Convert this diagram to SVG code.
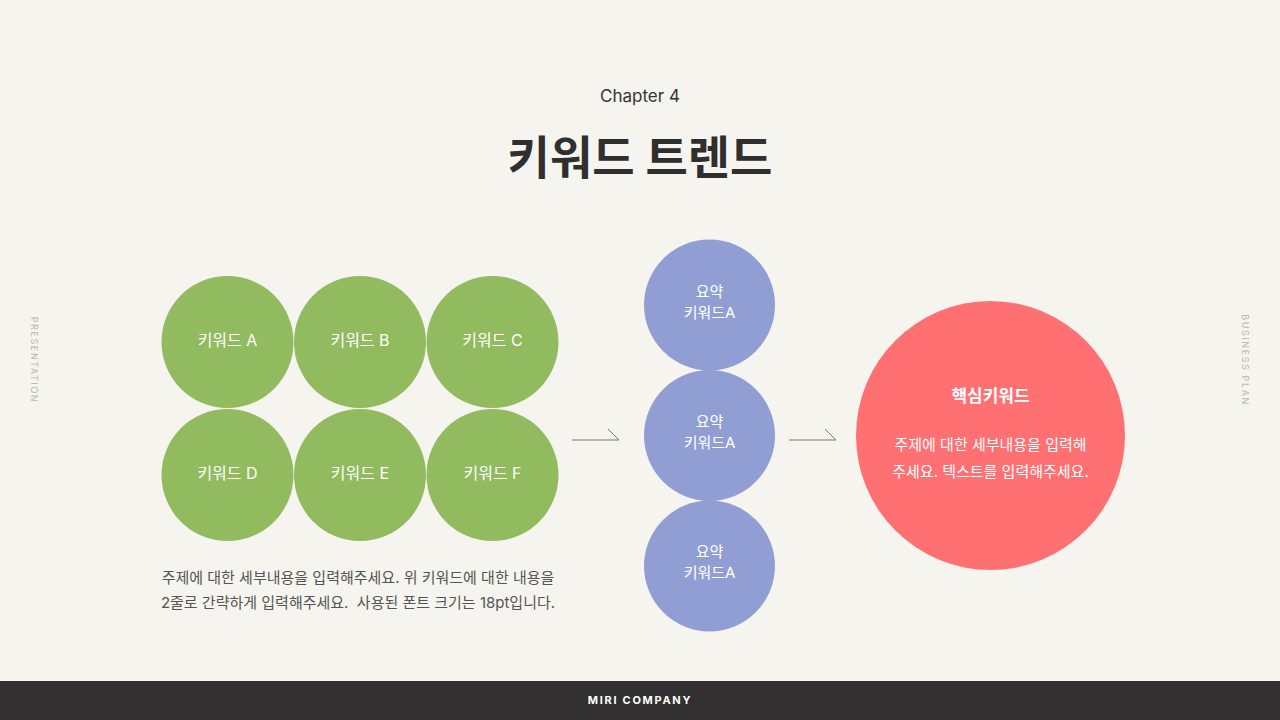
<svg xmlns="http://www.w3.org/2000/svg" width="1280" height="720" viewBox="0 0 1280 720">
<style>
.f{font-family:Inter,"Noto Sans CJK KR","Noto Sans",sans-serif}
.side{font-size:9px;fill:#b8b8b4;letter-spacing:1.6px}
.g{fill:#92BA5E}
.b{fill:#919ED3}
.lbl{font-size:16px;fill:#ffffff;text-anchor:middle}
.body{font-size:15px;fill:#555452;text-anchor:middle}
.wtxt{font-size:15px;fill:#ffffff;text-anchor:middle}
.conn{stroke:#777;stroke-width:1;fill:none}
</style>
<rect width="1280" height="720" fill="#F5F4EF"/>
<text class="f side" transform="translate(31,360) rotate(90)" text-anchor="middle">PRESENTATION</text>
<text class="f side" transform="translate(1242,360) rotate(90)" text-anchor="middle">BUSINESS PLAN</text>
<text class="f" x="640" y="102" font-size="17" fill="#333" text-anchor="middle">Chapter 4</text>
<text class="f" x="640" y="174" font-size="46" font-weight="700" fill="#2f2f2f" text-anchor="middle">키워드 트렌드</text>
<g id="kwA"><circle class="g" cx="227.5" cy="342" r="66"/><text class="f lbl" x="227.5" y="346">키워드 A</text></g>
<g id="kwB"><circle class="g" cx="360" cy="342" r="66"/><text class="f lbl" x="360" y="346">키워드 B</text></g>
<g id="kwC"><circle class="g" cx="492.5" cy="342" r="66"/><text class="f lbl" x="492.5" y="346">키워드 C</text></g>
<g id="kwD"><circle class="g" cx="227.5" cy="475" r="66"/><text class="f lbl" x="227.5" y="479">키워드 D</text></g>
<g id="kwE"><circle class="g" cx="360" cy="475" r="66"/><text class="f lbl" x="360" y="479">키워드 E</text></g>
<g id="kwF"><circle class="g" cx="492.5" cy="475" r="66"/><text class="f lbl" x="492.5" y="479">키워드 F</text></g>
<g id="desc">
<text class="f body" x="358" y="583">주제에 대한 세부내용을 입력해주세요. 위 키워드에 대한 내용을</text>
<text class="f body" x="358" y="608" xml:space="preserve">2줄로 간략하게 입력해주세요.  사용된 폰트 크기는 18pt입니다.</text>
</g>
<g id="sum1"><circle class="b" cx="709.5" cy="305" r="65.5"/><text class="f wtxt" x="709.5" y="297">요약</text><text class="f wtxt" x="709.5" y="318">키워드A</text></g>
<g id="sum2"><circle class="b" cx="709.5" cy="435.5" r="65.5"/><text class="f wtxt" x="709.5" y="427">요약</text><text class="f wtxt" x="709.5" y="448">키워드A</text></g>
<g id="sum3"><circle class="b" cx="709.5" cy="566" r="65.5"/><text class="f wtxt" x="709.5" y="557">요약</text><text class="f wtxt" x="709.5" y="578">키워드A</text></g>
<g id="core">
<circle cx="990.5" cy="435.5" r="134.5" fill="#FF7073"/>
<text class="f" x="990.5" y="402" font-size="17" font-weight="700" fill="#fff" text-anchor="middle">핵심키워드</text>
<text class="f wtxt" x="990.5" y="450">주제에 대한 세부내용을 입력해</text>
<text class="f wtxt" x="990.5" y="477">주세요. 텍스트를 입력해주세요.</text>
</g>
<g id="connectors">
<path class="conn" d="M572 440 H619 L608 429"/>
<path class="conn" d="M789 440 H836 L825 429"/>
</g>
<g id="footer">
<rect x="0" y="681" width="1280" height="39" fill="#333031"/>
<text class="f" x="640" y="704" font-size="11" font-weight="700" fill="#fff" text-anchor="middle" letter-spacing="1.7">MIRI COMPANY</text>
</g>
</svg>
